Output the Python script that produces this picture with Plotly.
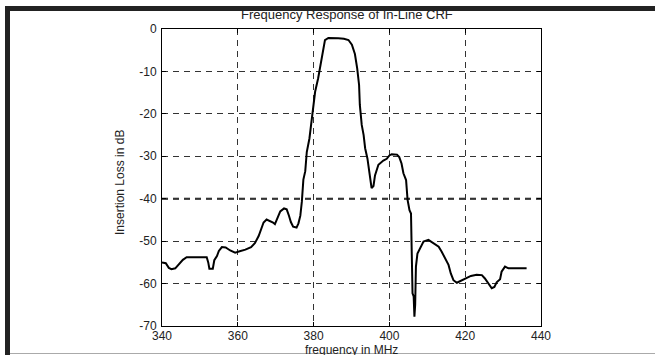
import plotly.graph_objects as go

# ---- data ----
freq_mhz = [340.0, 341.0, 341.8, 342.5, 343.5, 344.5, 345.5, 346.5, 348.0, 350.0,
            351.8, 352.2, 352.5, 353.4, 353.8, 354.5, 355.0, 355.8, 356.8, 358.0,
            359.3, 360.5, 362.0, 363.5, 364.5, 365.5, 366.3, 366.8, 367.6, 368.5,
            369.3, 369.8, 370.5, 371.2, 372.2, 372.9, 373.5, 374.0, 374.6, 375.5,
            376.0, 376.5, 376.9, 377.3, 377.8, 378.2, 378.9, 379.5, 379.9, 380.4,
            381.2, 381.7, 382.1, 382.6, 383.0, 383.9, 385.0, 386.5, 388.0, 389.2,
            390.1, 390.9, 391.5, 392.0, 392.2, 392.7, 393.2, 393.6, 394.2, 394.5,
            394.9, 395.3, 395.8, 396.2, 397.1, 398.4, 399.3, 400.0, 400.6, 402.0,
            402.6, 403.2, 403.7, 404.4, 404.8, 405.3, 405.7, 405.9, 406.1, 406.4,
            406.6, 406.8, 407.0, 407.4, 407.9, 408.3, 409.0, 410.3, 411.6, 413.0,
            413.8, 414.7, 415.6, 416.2, 416.9, 417.8, 419.1, 420.4, 421.5, 423.0,
            424.4, 425.2, 426.1, 427.0, 427.7, 428.3, 429.2, 429.6, 430.5, 431.4,
            436.2]
insertion_loss_db = [-55.0, -55.2, -56.3, -56.6, -56.4, -55.5, -54.4, -53.8, -53.8, -53.8,
                     -53.8, -55.0, -56.5, -56.5, -54.5, -53.5, -52.3, -51.4, -51.5, -52.2,
                     -52.7, -52.4, -52.0, -51.4, -50.5, -48.8, -47.0, -45.6, -44.9, -45.2,
                     -45.6, -46.0, -44.5, -43.0, -42.3, -42.5, -44.0, -45.5, -46.6, -46.8,
                     -45.8, -44.0, -40.7, -35.5, -33.5, -29.0, -25.8, -21.8, -18.0, -14.8,
                     -11.6, -9.3, -6.9, -4.6, -2.6, -2.1, -2.1, -2.2, -2.3, -2.6,
                     -3.7, -5.9, -9.3, -13.2, -17.9, -22.6, -25.0, -28.1, -30.5, -32.8,
                     -34.4, -37.5, -37.0, -34.5, -32.0, -31.0, -30.6, -29.8, -29.5, -29.6,
                     -30.2, -31.7, -34.0, -35.6, -40.3, -42.7, -43.5, -51.3, -62.3, -63.0,
                     -67.8, -65.0, -56.0, -52.9, -52.0, -51.0, -50.1, -49.7, -50.5, -51.3,
                     -52.5, -54.0, -55.6, -57.6, -59.2, -59.8, -59.2, -58.6, -58.2, -57.9,
                     -58.0, -58.8, -59.9, -61.1, -60.8, -59.7, -59.0, -57.2, -56.0, -56.4,
                     -56.4]

x_ticks = [340, 360, 380, 400, 420, 440]
y_ticks = [0, -10, -20, -30, -40, -50, -60, -70]

title_text = "Frequency Response of In-Line CRF"
x_title = "frequency in MHz"
y_title = "Insertion Loss in dB"

W, H = 655, 355
L, R, T, B = 162, 541, 29, 326   # plot area in pixels


def px(xp):
    return (xp - L) / (R - L)


def py(yp):
    return (B - yp) / (B - T)


FONT = "Liberation Sans, Arial, sans-serif"
INK = "#222222"

fig = go.Figure()
fig.add_trace(go.Scatter(x=freq_mhz, y=insertion_loss_db, mode="lines",
                         line=dict(color="black", width=2), showlegend=False,
                         hoverinfo="skip"))

axis_common = dict(showline=True, linecolor="black", linewidth=1, mirror="ticks",
                   ticks="inside", ticklen=4, tickcolor="black",
                   showgrid=True, gridcolor="#333333", gridwidth=1, griddash="6px,5px",
                   zeroline=False, tickfont=dict(family=FONT, size=12, color=INK))

fig.update_xaxes(range=[340, 440], tickvals=x_ticks, ticktext=[str(v) for v in x_ticks],
                 ticklabelstandoff=-1, **axis_common)
fig.update_yaxes(range=[-70, 0], tickvals=y_ticks, ticktext=[str(v) for v in y_ticks],
                 ticklabelstandoff=2, **axis_common)

shapes = [
    # heavier -40 grid line
    dict(type="line", xref="x", yref="y", x0=340, x1=440, y0=-40, y1=-40,
         line=dict(color="#111111", width=2, dash="6px,5px"), layer="below"),
    # frame bars
    dict(type="rect", xref="paper", yref="paper", x0=px(5), x1=px(W), y0=py(11), y1=py(6),
         fillcolor=INK, line=dict(width=0), layer="above"),
    dict(type="rect", xref="paper", yref="paper", x0=px(5), x1=px(10), y0=py(H), y1=py(6),
         fillcolor=INK, line=dict(width=0), layer="above"),
    dict(type="line", xref="paper", yref="paper", x0=px(10), x1=px(W), y0=py(353.5), y1=py(353.5),
         line=dict(color="#aaaaaa", width=1), layer="above"),
]

annotations = [
    dict(text=title_text, xref="paper", yref="paper", x=px(347), y=py(15),
         xanchor="center", yanchor="middle", showarrow=False,
         font=dict(family=FONT, size=13, color=INK)),
    dict(text=x_title, xref="paper", yref="paper", x=px(351), y=py(350),
         xanchor="center", yanchor="middle", showarrow=False,
         font=dict(family=FONT, size=12, color=INK)),
    dict(text=y_title, xref="paper", yref="paper", x=px(120), y=py(183),
         xanchor="center", yanchor="middle", showarrow=False, textangle=-90,
         font=dict(family=FONT, size=12, color=INK)),
]

fig.update_layout(width=W, height=H, margin=dict(l=L, r=W - R, t=T, b=H - B),
                  paper_bgcolor="white", plot_bgcolor="white", hovermode=False,
                  shapes=shapes, annotations=annotations, showlegend=False)

fig.write_html("out.html", config={"displayModeBar": False, "staticPlot": True},
               post_script="document.body.style.margin='0';document.body.style.overflow='hidden';")
